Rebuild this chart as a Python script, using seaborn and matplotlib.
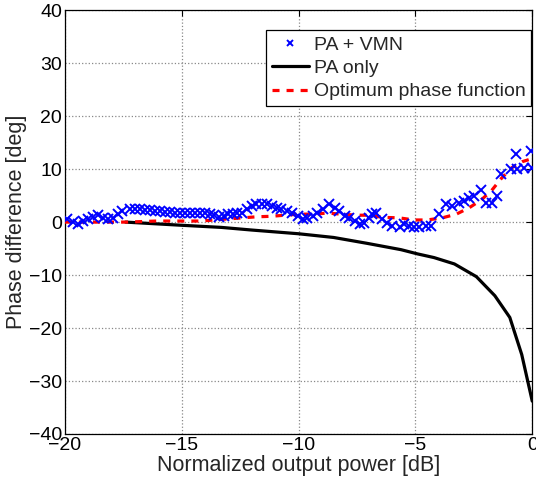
import matplotlib
matplotlib.use("Agg")
import matplotlib.pyplot as plt
import seaborn as sns
import pandas as pd

# PA + VMN measured phase difference
vmn_x = [-19.9, -19.66, -19.44, -19.23, -19.0, -18.8, -18.6, -18.38, -18.16, -17.95,
         -17.74, -17.55, -17.22, -17.0, -16.8, -16.58, -16.37, -16.15, -15.94, -15.73,
         -15.5, -15.3, -15.09, -14.87, -14.66, -14.44, -14.23, -14.0, -13.8, -13.6,
         -13.4, -13.2, -13.0, -12.8, -12.62, -12.44, -12.22, -12.0, -11.8, -11.58,
         -11.37, -11.15, -10.94, -10.73, -10.5, -10.3, -10.04, -9.83, -9.62, -9.4,
         -9.19, -8.97, -8.68, -8.46, -8.25, -8.03, -7.82, -7.6, -7.39, -7.18,
         -6.97, -6.84, -6.67, -6.41, -6.2, -5.98, -5.68, -5.47, -5.26, -5.04,
         -4.83, -4.53, -4.32, -3.97, -3.68, -3.42, -3.12, -2.91, -2.69, -2.48,
         -2.18, -1.97, -1.71, -1.5, -1.33, -0.9, -0.68, -0.64, -0.34, -0.04, 0.0]
vmn_y = [0.6, 0.0, -0.4, 0.2, 0.6, 0.9, 1.3, 0.8, 0.6, 0.8,
         1.5, 2.1, 2.5, 2.5, 2.5, 2.3, 2.3, 2.1, 2.1, 1.9,
         1.9, 1.7, 1.7, 1.7, 1.7, 1.7, 1.7, 1.7, 1.5, 1.3,
         0.9, 1.2, 1.5, 1.5, 1.7, 1.7, 2.5, 3.0, 3.4, 3.4,
         3.4, 3.0, 2.7, 2.5, 2.1, 1.7, 1.1, 0.6, 0.8, 1.1,
         1.7, 2.5, 3.4, 2.7, 2.1, 1.1, 0.8, 0.2, -0.4, -0.2,
         0.8, 1.5, 1.7, 0.6, -0.2, -0.8, -0.9, -0.4, -0.8, -0.9,
         -0.9, -0.8, -0.8, 1.5, 3.4, 3.0, 3.6, 4.0, 4.5, 4.9,
         6.1, 3.6, 3.6, 4.9, 9.1, 10.0, 12.9, 10.0, 10.2, 13.5, 10.2]

# PA only
pa_x = [-17.4, -15.0, -13.3, -12.0, -10.0, -8.5, -7.08, -5.62, -4.91, -4.2,
        -3.33, -2.39, -1.6, -0.96, -0.45, 0.0]
pa_y = [0.0, -0.6, -1.0, -1.5, -2.2, -2.9, -4.0, -5.2, -6.0, -6.7,
        -7.9, -10.3, -13.9, -18.0, -25.0, -33.8]

# Optimum phase function
opt_x = [-20.0, -19.4, -17.35, -16.07, -15.5, -14.2, -13.6, -13.03, -12.4, -11.8,
         -11.15, -10.6, -9.96, -9.4, -8.76, -8.16, -7.5, -6.97, -6.4, -5.7,
         -5.04, -4.5, -3.85, -3.25, -2.7, -2.18, -1.75, -1.33, -0.9, -0.43, 0.0]
opt_y = [0.0, 0.0, 0.0, 0.2, 0.2, 0.2, 0.4, 0.6, 0.8, 1.0,
         1.1, 1.3, 1.5, 1.5, 1.7, 1.5, 1.3, 1.3, 0.9, 0.8,
         0.4, 0.4, 0.8, 1.5, 2.7, 4.2, 5.9, 8.2, 10.2, 11.4, 12.0]

sns.set_style("white")
plt.rcParams["font.family"] = ["Liberation Sans", "DejaVu Sans"]

fig = plt.figure(figsize=(5.36, 4.86), dpi=100)
ax = fig.add_axes([0.121, 0.107, 0.872, 0.872])

vmn = pd.DataFrame({"x": vmn_x, "y": vmn_y})
pa = pd.DataFrame({"x": pa_x, "y": pa_y})
opt = pd.DataFrame({"x": opt_x, "y": opt_y})

sns.lineplot(data=pa, x="x", y="y", ax=ax, color="black", linewidth=2.3,
             sort=False, label="PA only", zorder=2)
sns.lineplot(data=opt, x="x", y="y", ax=ax, color="red", linewidth=2.3,
             sort=False, dashes=False, label="Optimum phase function", zorder=3)
ax.lines[-1].set_dashes((2.2, 2.2))
ax.plot(vmn["x"], vmn["y"], linestyle="none", marker="x", color="blue",
        markersize=6.5, markeredgewidth=1.4, label="PA + VMN", zorder=4)

ax.set_xlim(-20, 0)
ax.set_ylim(-40, 40)
ax.set_xticks([-20, -15, -10, -5, 0])
ax.set_yticks(range(-40, 41, 10))
ax.set_xticklabels(["\u221220", "\u221215", "\u221210", "\u22125", "0"])
ax.set_yticklabels(["\u221240", "\u221230", "\u221220", "\u221210", "0", "10", "20", "30", "40"])
ax.grid(True, linestyle=":", color="#888888", linewidth=0.9)
ax.tick_params(direction="in", top=True, right=True, length=4, width=0.8,
               labelsize=14, colors="black", pad=2)
for s in ax.spines.values():
    s.set_color("black")
    s.set_linewidth(0.9)

ax.set_xlabel("Normalized output power [dB]", fontsize=15.5, labelpad=1)
ax.set_ylabel("Phase difference [deg]", fontsize=15.5, labelpad=1)

handles, labels = ax.get_legend_handles_labels()
order = [labels.index("PA + VMN"), labels.index("PA only"), labels.index("Optimum phase function")]
leg = ax.legend([handles[i] for i in order], [labels[i] for i in order],
                loc="upper right", bbox_to_anchor=(0.998, 0.953), fontsize=14,
                frameon=True, fancybox=False, framealpha=1, edgecolor="black",
                borderpad=0.3, labelspacing=0.3, handlelength=1.9,
                handletextpad=0.25, borderaxespad=0.0)
leg.get_frame().set_linewidth(0.9)
leg.legend_handles[0].set_markersize(5)

fig.savefig("out.png", dpi=100)
